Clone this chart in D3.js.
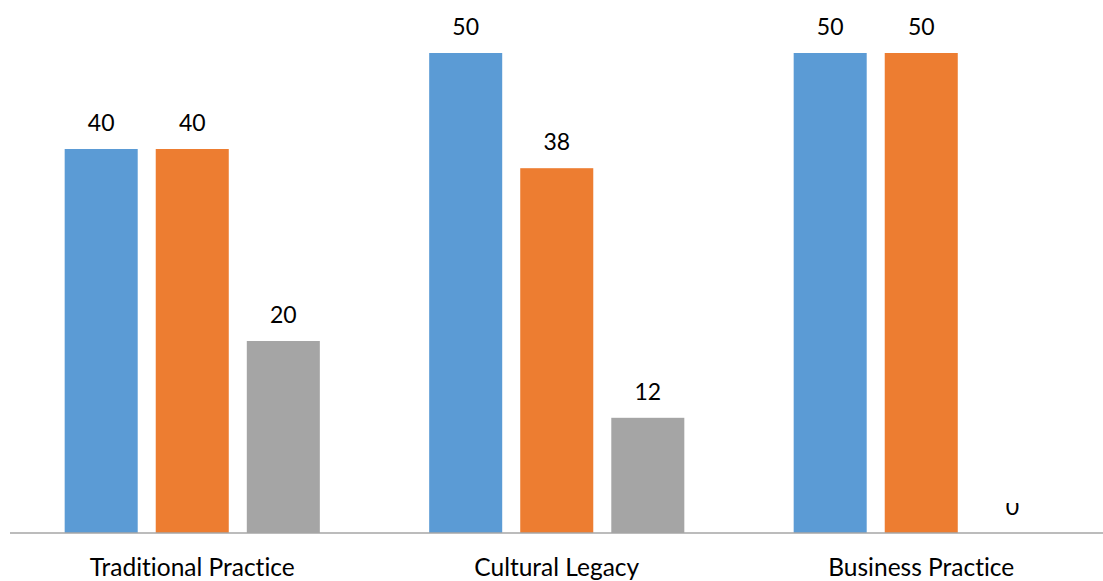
<!DOCTYPE html>
<html>
<head>
<meta charset="utf-8">
<script src="https://cdn.jsdelivr.net/npm/d3@7"></script>
<style>
  html, body { margin: 0; padding: 0; background: #fff; }
  svg { display: block; }
  text { font-family: "Lato", "Open Sans", sans-serif; fill: #000; font-variant-ligatures: none; font-feature-settings: "liga" 0, "clig" 0; }
</style>
</head>
<body>
<svg id="chart" width="1103" height="581"></svg>
<script>
const categories = ["Traditional Practice", "Cultural Legacy", "Business Practice"];
const seriesNames = ["Series 1", "Series 2", "Series 3"];
const series1 = [40, 50, 50];
const series2 = [40, 38, 50];
const series3 = [20, 12, 0];
const colors = ["#5B9BD5", "#ED7D31", "#A5A5A5"];

const seriesValues = [series1, series2, series3];
const data = categories.map((c, i) => ({
  category: c,
  values: seriesNames.map((s, j) => ({ key: s, value: seriesValues[j][i], idx: j }))
}));

const svg = d3.select("#chart");
const W = 1103, H = 581;
const margin = { left: 10, right: -0.5, top: 53, bottom: 48 };

const x0 = d3.scaleBand()
  .domain(categories)
  .range([margin.left, W - margin.right])
  .paddingInner(0.3)
  .paddingOuter(0.15);

const x1 = d3.scaleBand()
  .domain(seriesNames)
  .range([0, x0.bandwidth()])
  .paddingInner(0.198)
  .paddingOuter(0);

const y = d3.scaleLinear()
  .domain([0, 50])
  .range([H - margin.bottom, margin.top]);

const baseY = y(0);
const defs = svg.append("defs");

const groups = svg.append("g").selectAll("g")
  .data(data).join("g")
  .attr("transform", d => `translate(${x0(d.category)},0)`);

groups.selectAll("rect")
  .data(d => d.values).join("rect")
  .attr("x", d => x1(d.key))
  .attr("width", x1.bandwidth())
  .attr("y", d => y(d.value))
  .attr("height", d => baseY - y(d.value))
  .attr("fill", d => colors[d.idx]);

// data labels
const labelG = svg.append("g");
data.forEach(d => {
  d.values.forEach(v => {
    const t = labelG.append("text")
      .attr("x", x0(d.category) + x1(v.key) + x1.bandwidth() / 2)
      .attr("y", y(v.value) - 18)
      .attr("text-anchor", "middle")
      .style("font-size", "23px")
      .text(v.value);
    if (v.value === 0) {
      // reproduce the partially clipped zero label
      defs.append("clipPath").attr("id", "zeroClip")
        .append("rect")
        .attr("x", 0).attr("width", W)
        .attr("y", baseY - 30).attr("height", 30);
      t.attr("clip-path", "url(#zeroClip)");
    }
  });
});

// x axis
const xAxis = d3.axisBottom(x0).tickSize(0).tickPadding(26);
const ax = svg.append("g")
  .attr("transform", `translate(0,${baseY})`)
  .call(xAxis);
ax.select(".domain").attr("stroke", "#A6A6A6").attr("stroke-width", 1.5)
  .attr("d", `M${margin.left},0H${W}`);
ax.selectAll(".tick text")
  .style("font-family", "Lato, 'Open Sans', sans-serif")
  .style("font-size", "24.5px")
  .style("font-variant-ligatures", "none")
  .attr("fill", "#000");
</script>
</body>
</html>
